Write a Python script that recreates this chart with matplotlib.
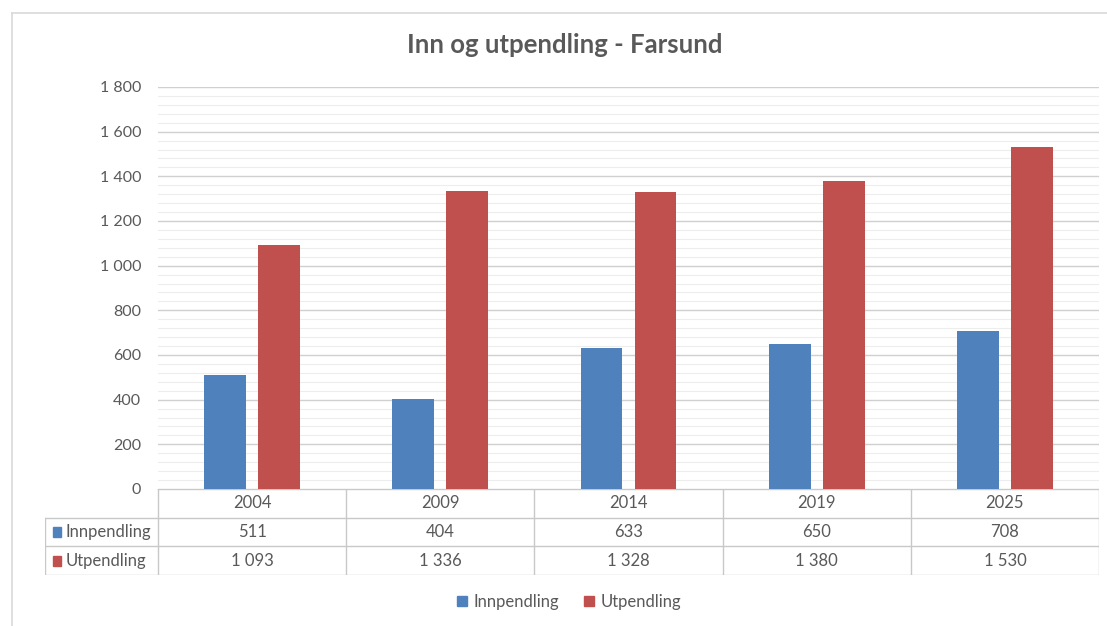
import matplotlib
matplotlib.use("Agg")
import matplotlib.pyplot as plt
from matplotlib.ticker import MultipleLocator, FuncFormatter
from matplotlib.patches import Rectangle
from matplotlib.lines import Line2D

years = ["2004", "2009", "2014", "2019", "2025"]
innpendling = [511, 404, 633, 650, 708]
utpendling = [1093, 1336, 1328, 1380, 1530]
series_names = ["Innpendling", "Utpendling"]
colors = ["#4F81BD", "#C0504D"]

plt.rcParams['font.family'] = ['Lato', 'DejaVu Sans']
TXT = "#595959"

W, H = 1107, 626
fig = plt.figure(figsize=(W / 100, H / 100), dpi=100)

def fx(px):
    return px / W

def fy(py):
    return 1 - py / H

# outer chart border (left and top)
fig.add_artist(Line2D([fx(12), fx(12)], [fy(13), 0], color="#D9D9D9", lw=1.2))
fig.add_artist(Line2D([fx(12), 1], [fy(13), fy(13)], color="#D9D9D9", lw=1.2))

left_px, right_px, top_px, bot_px = 158, 1099, 87, 489
ax = fig.add_axes([fx(left_px), fy(bot_px), fx(right_px - left_px), (bot_px - top_px) / H])
n = len(years)
x = list(range(n))
bw = 0.223
gap = 0.064
off = (bw + gap) / 2
ax.bar([i - off for i in x], innpendling, width=bw, color=colors[0], zorder=3)
ax.bar([i + off for i in x], utpendling, width=bw, color=colors[1], zorder=3)
ax.set_xlim(-0.5, n - 0.5)
ax.set_ylim(0, 1800)
ax.yaxis.set_major_locator(MultipleLocator(200))
ax.yaxis.set_minor_locator(MultipleLocator(40))
ax.yaxis.set_major_formatter(FuncFormatter(lambda v, p: f"{int(v):,}".replace(",", " ")))
ax.grid(axis="y", which="major", color="#D0D0D0", lw=1.0, zorder=0)
ax.grid(axis="y", which="minor", color="#EDEDED", lw=0.8, zorder=0)
ax.set_xticks([])
ax.tick_params(axis="y", which="both", length=0, labelsize=11.5, labelcolor=TXT, pad=12)
for s in ax.spines.values():
    s.set_visible(False)

# data table
tab_left_px = 45
row_px = [489, 518, 546, 575]
tax = fig.add_axes([fx(tab_left_px), fy(row_px[-1]), fx(right_px - tab_left_px), (row_px[-1] - row_px[0]) / H])
col_w = (right_px - left_px) / n
xl = -0.5 - (left_px - tab_left_px) / col_w
tax.set_xlim(xl, n - 0.5)
tax.set_ylim(3, 0)
tax.axis("off")
lc = "#C8C8C8"
tax.plot([-0.5, n - 0.5], [0, 0], color=lc, lw=1)
for yv in [1, 2, 3]:
    tax.plot([xl, n - 0.5], [yv, yv], color=lc, lw=1)
tax.plot([xl, xl], [1, 3], color=lc, lw=1)
for k in range(n + 1):
    tax.plot([k - 0.5, k - 0.5], [0, 3], color=lc, lw=1)
fs = 12
for i, yr in enumerate(years):
    tax.text(i, 0.5, yr, ha="center", va="center", fontsize=fs, color=TXT)
    tax.text(i, 1.5, str(innpendling[i]), ha="center", va="center", fontsize=fs, color=TXT)
    tax.text(i, 2.5, f"{utpendling[i]:,}".replace(",", " "), ha="center", va="center", fontsize=fs, color=TXT)
for r, (name, c) in enumerate(zip(series_names, colors)):
    tax.add_patch(Rectangle((xl + 0.04, r + 1.5 - 0.17), 0.045, 0.34, color=c, clip_on=False))
    tax.text(xl + 0.11, r + 1.5, name, ha="left", va="center", fontsize=fs, color=TXT)

# title
fig.text(fx(565), fy(45), "Inn og utpendling - Farsund", ha="center", va="center",
         fontsize=18.5, fontweight="bold", color=TXT)

# legend
handles = [Rectangle((0, 0), 1, 1, color=c) for c in colors]
fig.legend(handles, series_names, loc="center", bbox_to_anchor=(fx(569), fy(602)),
           ncol=2, frameon=False, fontsize=12, labelcolor=TXT,
           handlelength=0.6, handleheight=0.6, handletextpad=0.4, columnspacing=1.5)

fig.savefig("out.png", dpi=100, facecolor="white")
